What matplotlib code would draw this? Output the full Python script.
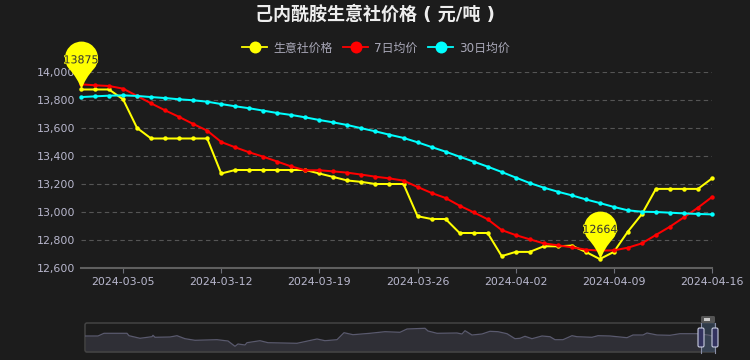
import matplotlib
matplotlib.use("Agg")
import matplotlib.pyplot as plt
import matplotlib.dates as mdates
import matplotlib.patheffects as pe
from matplotlib.lines import Line2D
from matplotlib.patches import FancyBboxPatch, Rectangle
from matplotlib.path import Path
import numpy as np
import pandas as pd

plt.rcParams['font.family'] = ['DejaVu Sans', 'Noto Sans CJK SC']

dates = pd.date_range("2024-03-02", "2024-04-16")
tick_dates = ["2024-03-05", "2024-03-12", "2024-03-19", "2024-03-26", "2024-04-02", "2024-04-09", "2024-04-16"]
y_ticks = [12600, 12800, 13000, 13200, 13400, 13600, 13800, 14000]

price = [13875, 13875, 13875, 13805, 13600, 13525, 13525, 13525, 13525, 13525,
         13275, 13300, 13300, 13300, 13300, 13300, 13300, 13275, 13250, 13225,
         13215, 13200, 13200, 13200, 12970, 12950, 12950, 12850, 12850, 12850,
         12685, 12715, 12715, 12755, 12755, 12760, 12715, 12664, 12715, 12860,
         12985, 13165, 13165, 13165, 13165, 13240]
avg7 = [13912, 13905, 13900, 13881, 13829, 13776, 13726, 13679, 13629, 13581,
        13500, 13462, 13426, 13395, 13360, 13325, 13298, 13298, 13290, 13281,
        13267, 13252, 13240, 13224, 13179, 13136, 13100, 13045, 12998, 12948,
        12871, 12835, 12805, 12776, 12762, 12748, 12731, 12724, 12726, 12745,
        12776, 12836, 12895, 12962, 13031, 13107]
avg30 = [13821, 13826, 13831, 13833, 13829, 13821, 13814, 13805, 13798, 13788,
         13771, 13755, 13741, 13724, 13707, 13693, 13676, 13657, 13640, 13621,
         13598, 13576, 13552, 13529, 13498, 13464, 13431, 13395, 13360, 13324,
         13286, 13246, 13207, 13174, 13145, 13119, 13090, 13064, 13036, 13012,
         13002, 13000, 12995, 12990, 12986, 12983]

# overview strip under the chart, long history on its own scale
slider_day = [0, 13, 19, 42, 44, 55, 67, 68, 70, 85, 92, 100, 110, 132, 143, 150, 153,
              160, 162, 175, 183, 212, 232, 240, 252, 259, 268, 285, 300, 315, 322, 340,
              343, 352, 372, 377, 380, 387, 397, 405, 413, 422, 430, 435, 440, 447, 457,
              465, 470, 478, 487, 492, 507, 513, 525, 542, 548, 558, 562, 572, 585, 595,
              612, 623, 630]
slider_level = [16, 16, 18.7, 18.7, 16.3, 13.7, 15.3, 16.7, 14.7, 15, 16.3, 13.3, 11.7, 12.3,
                11, 5.7, 8, 7, 9.3, 11.3, 9.3, 8.7, 13, 11.3, 12.3, 19.3, 17.3, 18.7, 20.3,
                19.7, 23, 23.7, 21, 18.7, 19, 18, 21.3, 17, 18, 20.7, 20.3, 18.3, 13.3,
                13.7, 15.7, 13.3, 16, 15.3, 12.3, 12.3, 16.3, 15.3, 14.7, 16.3, 16, 14.3,
                17, 17, 19, 17, 16.7, 18.3, 18.3, 17, 15.3]

bg = "#1c1c1c"
label_col = "#b9b8ce"


def pin_marker():
    # map pin with its tip at the origin
    arc = Path.arc(-38, 218)
    verts = arc.vertices * 16.5 + [0, 31.5]
    codes = list(arc.codes)
    first = verts[0]
    verts = np.vstack([verts, [[-3.5, 11], [0, 0], [3.5, 11], first, first]])
    codes += [Path.CURVE3, Path.CURVE3, Path.CURVE3, Path.CURVE3, Path.CLOSEPOLY]
    return Path(verts, codes)


fig = plt.figure(figsize=(7.5, 3.6), dpi=100, facecolor=bg)
ax = fig.add_axes([81 / 750, 1 - 268 / 360, 631 / 750, 196 / 360], facecolor=bg)

series = [(price, "#ffff00", "生意社价格"), (avg7, "#ff0000", "7日均价"), (avg30, "#00ffff", "30日均价")]
for vals, col, name in series:
    ax.plot(dates, vals, color=col, lw=1.45, marker="o", ms=3.2, mew=0, clip_on=False, label=name, zorder=3)

ax.set_xlim(dates[0], dates[-1])
ax.set_ylim(12600, 14000)
ax.set_yticks(y_ticks)
ax.set_yticklabels([f"{v:,}" for v in y_ticks])
ax.set_xticks(mdates.date2num(pd.to_datetime(tick_dates)))
ax.set_xticklabels(tick_dates)
ax.tick_params(axis="x", colors="#6e7079", labelcolor=label_col, labelsize=7.9, length=3.6, width=0.8, pad=3)
ax.tick_params(axis="y", length=0, labelcolor=label_col, labelsize=7.9, pad=4)
ax.grid(axis="y", color="#555555", lw=0.8, ls=(0, (4, 3)))
ax.set_axisbelow(True)
for s in ["top", "left", "right"]:
    ax.spines[s].set_visible(False)
ax.spines["bottom"].set_color("#5f5f5f")
ax.spines["bottom"].set_linewidth(1.5)

# max / min pins on the price line
pin = pin_marker()
for idx in [int(np.argmax(price)), int(np.argmin(price))]:
    ax.plot(dates[idx], price[idx], marker=pin, ms=69, color="#ffff00", mew=0, ls="none", clip_on=False, zorder=5)
    ax.annotate(str(price[idx]), (dates[idx], price[idx]), xytext=(0, 21), textcoords="offset points",
                ha="center", va="center", fontsize=7.9, color="#333333", zorder=6, annotation_clip=False,
                path_effects=[pe.withStroke(linewidth=1, foreground="#ffff00")])

fig.text(375 / 750, 1 - 14 / 360, "己内酰胺生意社价格 ( 元/吨 )", ha="center", va="center",
         fontsize=13, fontweight="bold", color="#eeeeee")

handles = [Line2D([], [], color=c, lw=1.3, marker="o", ms=8.6, mew=0, label=n) for _, c, n in series]
fig.legend(handles=handles, loc="center", bbox_to_anchor=(376 / 750, 1 - 48 / 360), ncols=3, frameon=False,
           fontsize=8.6, labelcolor="#a9a8b8", handlelength=2.1, handletextpad=0.5, columnspacing=0.9,
           borderpad=0, borderaxespad=0)

# slider strip
sl = fig.add_axes([85 / 750, 1 - 352 / 360, 630 / 750, 29 / 360], facecolor="none")
sl.set_xlim(0, 630)
sl.set_ylim(0, 29)
sl.axis("off")
sl.fill_between(slider_day, 0, slider_level, color="#2f2f36", lw=0)
sl.plot(slider_day, slider_level, color="#5a5a6e", lw=0.9)
sl.add_patch(FancyBboxPatch((0, 0), 630, 29, boxstyle="round,pad=0,rounding_size=2", fc="none", ec="#444444",
                            lw=1.1, clip_on=False))
sl.add_patch(Rectangle((617, 0), 13, 29, fc="#3d4f66", alpha=0.6, lw=0))
for x0 in [616, 630]:
    sl.plot([x0, x0], [-0.5, 29], color="#8a8fa8", lw=0.8, clip_on=False)
    sl.add_patch(FancyBboxPatch((x0 - 3, 5), 6, 19, boxstyle="round,pad=0,rounding_size=1.5", fc="#33335f",
                                ec="#c8cce0", lw=0.8, clip_on=False, zorder=4))
sl.add_patch(FancyBboxPatch((616, 29), 14, 7, boxstyle="round,pad=0,rounding_size=1.5", fc="#555555", ec="none",
                            clip_on=False))
for x0 in [620.5, 622.5, 624.5]:
    sl.plot([x0, x0], [31, 34], color="#eeeeee", lw=1.1, clip_on=False, solid_capstyle="butt")

plt.savefig("out.png", dpi=100, facecolor=bg)
